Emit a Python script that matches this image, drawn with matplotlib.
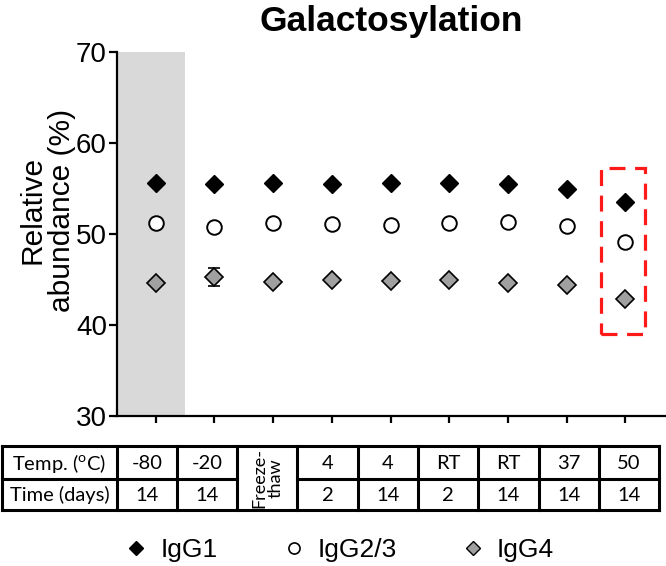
import matplotlib

matplotlib.use("Agg")
import matplotlib.pyplot as plt
from matplotlib.lines import Line2D
from matplotlib.patches import Rectangle

plt.rcParams["font.family"] = ["Liberation Sans", "DejaVu Sans"]

# --- data -----------------------------------------------------------------
positions = [1, 2, 3, 4, 5, 6, 7, 8, 9]
igg1 = [55.6, 55.5, 55.6, 55.5, 55.6, 55.6, 55.5, 55.0, 53.5]
igg1_err = [0.1, 0.1, 0.1, 0.1, 0.1, 0.1, 0.1, 0.15, 0.3]
igg23 = [51.2, 50.8, 51.2, 51.1, 51.0, 51.2, 51.3, 50.9, 49.1]
igg23_err = [0.1, 0.1, 0.1, 0.1, 0.1, 0.1, 0.1, 0.1, 0.3]
igg4 = [44.6, 45.3, 44.7, 44.9, 44.8, 45.0, 44.6, 44.4, 42.9]
igg4_err = [0.1, 1.0, 0.1, 0.3, 0.2, 0.3, 0.1, 0.3, 0.2]

temps = ["-80", "-20", None, "4", "4", "RT", "RT", "37", "50"]
times = ["14", "14", None, "2", "14", "2", "14", "14", "14"]

W, H = 666, 566
fig = plt.figure(figsize=(W / 100, H / 100), dpi=100)

# main axes, placed in pixel terms
ax = fig.add_axes([116.7 / W, 1 - 416 / H, 1 - 116.7 / W, (416 - 52) / H])
ax.set_xlim(0.336, 9.69)
ax.set_ylim(30, 70)

ax.axvspan(0.336, 1.5, color="#d9d9d9", lw=0, zorder=0)

ax.errorbar(positions, igg1, yerr=igg1_err, fmt="D", ms=9, mfc="black",
            mec="black", ecolor="black", elinewidth=1.2, capsize=4, zorder=3)
ax.errorbar(positions, igg23, yerr=igg23_err, fmt="o", ms=10.5, mfc="white",
            mec="black", mew=1.4, ecolor="black", elinewidth=1.2, capsize=4, zorder=3)
ax.errorbar(positions, igg4, yerr=igg4_err, fmt="D", ms=9, mfc="#a0a0a0",
            mec="black", mew=1.2, ecolor="black", elinewidth=1.2, capsize=4, zorder=3)

# dashed highlight around the 50 degC condition
ax.add_patch(Rectangle((8.58, 39.0), 0.76, 18.2, fill=False, ec="#ff1a1a",
                       lw=2.3, ls=(0, (5, 3)), zorder=4, clip_on=False))

for side in ("top", "right"):
    ax.spines[side].set_visible(False)
for side in ("left", "bottom"):
    ax.spines[side].set_linewidth(1.6)
ax.set_yticks([30, 40, 50, 60, 70])
ax.set_xticks(positions)
ax.set_xticklabels([])
ax.tick_params(axis="y", labelsize=20, width=1.6, length=6, pad=1)
ax.tick_params(axis="x", width=1.6, length=5)

ax.set_title("Galactosylation", fontsize=25.5, fontweight="bold", pad=15)
fig.text(47 / W, 1 - 210 / H, "Relative\nabundance (%)", rotation=90,
         ha="center", va="center", fontsize=21.5, linespacing=1.05,
         multialignment="center")

# --- condition table, drawn in pixel coordinates ---------------------------
tab = fig.add_axes([0, 0, 1, 1])
tab.set_xlim(0, W)
tab.set_ylim(H, 0)
tab.axis("off")

edges = [2, 116.7] + [116.7 + 60.26 * (i + 1) for i in range(9)]
top, mid, bot = 446, 478.7, 510
lw = 2.2
tab.plot([edges[0], edges[-1]], [top, top], color="black", lw=lw)
tab.plot([edges[0], edges[-1]], [bot, bot], color="black", lw=lw)
for e in edges:
    tab.plot([e, e], [top, bot], color="black", lw=lw)
# middle rule, broken by the merged freeze-thaw cell
tab.plot([edges[0], edges[3]], [mid, mid], color="black", lw=lw)
tab.plot([edges[4], edges[-1]], [mid, mid], color="black", lw=lw)

tfont = dict(family=["Lato", "DejaVu Sans"], ha="center", va="center")
tab.text((edges[0] + edges[1]) / 2, (top + mid) / 2 + 1,
         r"Temp. ($^{\mathregular{o}}$C)", fontsize=14.5, **tfont)
tab.text((edges[0] + edges[1]) / 2, (mid + bot) / 2 + 1, "Time (days)",
         fontsize=14.5, **tfont)
for i, (tp, tm) in enumerate(zip(temps, times)):
    cx = (edges[i + 1] + edges[i + 2]) / 2
    if tp is None:
        tab.text(cx, (top + bot) / 2, "Freeze-\nthaw", rotation=90,
                 linespacing=1.0, fontsize=13, **tfont)
        continue
    tab.text(cx, (top + mid) / 2 + 1, tp, fontsize=14.5, **tfont)
    tab.text(cx, (mid + bot) / 2 + 1, tm, fontsize=14.5, **tfont)

# --- legend ----------------------------------------------------------------
handles = [
    Line2D([], [], ls="none", marker="D", ms=7, mfc="black", mec="black"),
    Line2D([], [], ls="none", marker="o", ms=8, mfc="white", mec="black", mew=1.2),
    Line2D([], [], ls="none", marker="D", ms=7, mfc="#a0a0a0", mec="black", mew=1),
]
fig.legend(handles, ["IgG1", "IgG2/3", "IgG4"], loc="center", ncol=3,
           bbox_to_anchor=(340 / W, 1 - 550 / H), frameon=False, fontsize=19,
           handlelength=0.8, handletextpad=0.5, columnspacing=2.5)

fig.savefig("out.png", dpi=100)
